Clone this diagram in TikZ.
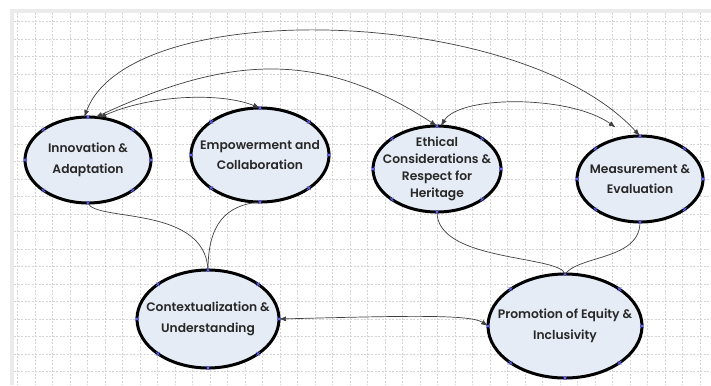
\documentclass[tikz,border=0pt]{standalone}
\usepackage{fontspec}
\setmainfont{Poppins}[BoldFont={Poppins SemiBold}]
\usetikzlibrary{shapes, arrows.meta, positioning}
\definecolor{bubble}{RGB}{230,236,246}
\definecolor{gridgray}{RGB}{212,212,212}
\definecolor{pin}{RGB}{100,100,235}
\definecolor{ink}{RGB}{40,40,40}

\tikzset{
  topic/.style={ellipse, draw=black, line width=3pt, fill=bubble, inner xsep=-30pt, inner ysep=-20pt, outer sep=0pt,
    align=center, text=ink, font=\fontsize{12.3}{20.5}\selectfont\bfseries},
  link/.style={draw=black!75, line width=0.7pt},
  both/.style={link, {Latex[length=7pt,width=5pt]}-{Latex[length=7pt,width=5pt]}},
  pin/.style={draw=pin, line width=0.8pt},
  gridline/.style={draw=gridgray, dash pattern=on 2pt off 1.5pt, line width=0.5pt}
}

\begin{document}
\begin{tikzpicture}[x=1pt, y=-1pt]
\useasboundingbox (0,0) rectangle (711,385);
% sheet and grid
\fill[white] (0,0) rectangle (711,385);
\fill[black!8] (10,9) rectangle (711,13);
\fill[black!8] (10,9) rectangle (14,385);
\foreach \gx in {1,...,40}
  \draw[gridline] (17.5*\gx,13) -- (17.5*\gx,385);
\foreach \gy in {1,...,21}
  \draw[gridline] (14,4+17.5*\gy) -- (711,4+17.5*\gy);

% topics
\node[topic, minimum width=126pt, minimum height=86pt] (innov) at (88,160) {Innovation \&\\Adaptation};
\node[topic, minimum width=138pt, minimum height=94pt] (emp) at (260,155) {Empowerment and\\Collaboration};
\node[topic, minimum width=128pt, minimum height=86pt, font=\fontsize{12.3}{17}\selectfont\bfseries] (ethic) at (437,169) {Ethical\\Considerations \&\\Respect for\\Heritage};
\node[topic, minimum width=126pt, minimum height=86pt] (meas) at (640,179) {Measurement \&\\Evaluation};
\node[topic, minimum width=142pt, minimum height=98pt] (context) at (208,319) {Contextualization \&\\Understanding};
\node[topic, minimum width=154pt, minimum height=104pt] (promo) at (565,326) {Promotion of Equity \&\\Inclusivity};

% connection points
\foreach \n in {innov,emp,ethic,meas,context,promo}
  \foreach \a in {north,south,east,west,north east,north west,south east,south west}
    \draw[pin] (\n.\a) +(-1.8,-1.8) -- +(1.8,1.8) +(-1.8,1.8) -- +(1.8,-1.8);

% links on top
\draw[both] (innov.95) .. controls (130,-5) and (520,5) .. (meas.north);
\draw[both] (innov.80) .. controls (230,55) and (320,50) .. (ethic.north);
\draw[both] (innov.75) .. controls (150,95) and (220,92) .. (emp.north);
\draw[both, shorten >=16pt] (ethic.85) .. controls (460,95) and (570,95) .. (meas.105);

% links below
\draw[link] (innov.south) .. controls (95,222) and (205,205) .. (context.north);
\draw[link] (emp.south) .. controls (225,205) and (208,225) .. (context.north);
\draw[link] (ethic.south) .. controls (437,262) and (560,255) .. (promo.north);
\draw[link] (meas.south) .. controls (640,260) and (580,255) .. (promo.north);
\draw[both] (context.east) .. controls (400,316) and (470,314) .. (promo.west);
\end{tikzpicture}
\end{document}
